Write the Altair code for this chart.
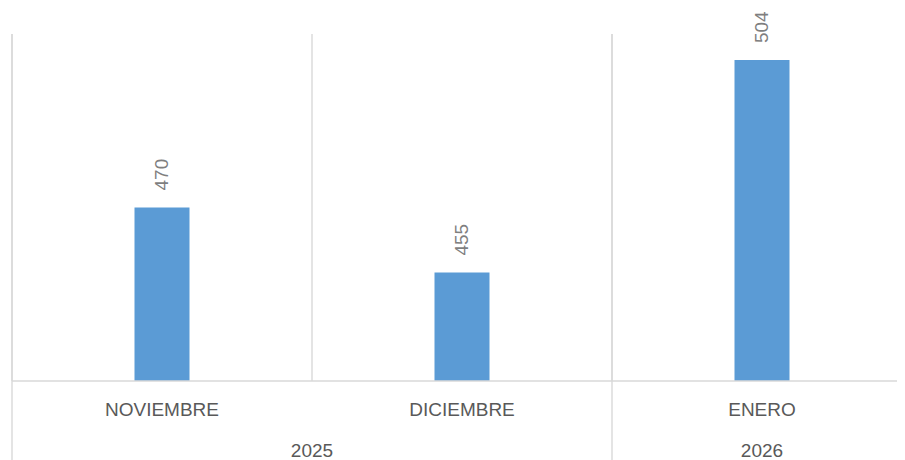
import altair as alt
import pandas as pd

months = ["NOVIEMBRE", "DICIEMBRE", "ENERO"]
years = ["2025", "2025", "2026"]
values = [470, 455, 504]

y_min, y_max = 430, 510
W, H = 885, 347

df = pd.DataFrame({"month": months, "year": years, "value": values})
df["pos"] = [i + 0.5 for i in range(len(months))]
df["base"] = y_min

yr = df.groupby("year", sort=False).agg(lo=("pos", "min"), hi=("pos", "max")).reset_index()
yr["lo"] = yr["lo"] - 0.5
yr["hi"] = yr["hi"] + 0.5
yr["center"] = (yr["lo"] + yr["hi"]) / 2

bounds = pd.DataFrame({"b": [float(i) for i in range(len(months))]})
year_bounds = pd.DataFrame({"b": sorted(set(yr["lo"]))})

xs = alt.Scale(domain=[0, 2.95], nice=False, zero=False, padding=0)
ys = alt.Scale(domain=[y_min, y_max], nice=False, zero=False, padding=0)

grid_col = "#d9d9d9"

grid = alt.Chart(bounds).mark_rule(color=grid_col, strokeWidth=1.4).encode(
    x=alt.X("b:Q", scale=xs, axis=None),
    y=alt.value(0),
    y2=alt.value(H),
)

seps = alt.Chart(year_bounds).mark_rule(color=grid_col, strokeWidth=1.4, clip=False).encode(
    x=alt.X("b:Q", scale=xs, axis=None),
    y=alt.value(0),
    y2=alt.value(H + 95),
)

bars = alt.Chart(df).mark_bar(size=55, color="#5b9bd5").encode(
    x=alt.X("pos:Q", scale=xs, axis=None),
    y=alt.Y("value:Q", scale=ys, axis=None),
    y2="base:Q",
)

baseline = alt.Chart(df.head(1)).mark_rule(color=grid_col, strokeWidth=1.6).encode(
    y=alt.Y("base:Q", scale=ys, axis=None),
    x=alt.value(0),
    x2=alt.value(W),
)

labels = alt.Chart(df).mark_text(
    angle=270, align="left", baseline="middle", yOffset=-17,
    font="Liberation Sans", fontSize=19, color="#7f7f7f",
).encode(
    x=alt.X("pos:Q", scale=xs, axis=None),
    y=alt.Y("value:Q", scale=ys, axis=None),
    text="value:Q",
)

month_txt = alt.Chart(df).mark_text(
    baseline="middle", font="Liberation Sans", fontSize=19, color="#595959",
).encode(
    x=alt.X("pos:Q", scale=xs, axis=None),
    y=alt.value(H + 29),
    text="month:N",
)

year_txt = alt.Chart(yr).mark_text(
    baseline="middle", font="Liberation Sans", fontSize=19, color="#595959",
).encode(
    x=alt.X("center:Q", scale=xs, axis=None),
    y=alt.value(H + 70),
    text="year:N",
)

chart = alt.layer(grid, seps, bars, baseline, labels, month_txt, year_txt).properties(
    width=W, height=H,
    padding={"left": 4, "top": 26, "right": 0, "bottom": 90},
    autosize=alt.AutoSizeParams(type="none"),
    background="white",
).configure_view(stroke=None)

chart.save("out.html", embed_options={"renderer": "svg", "actions": False})
